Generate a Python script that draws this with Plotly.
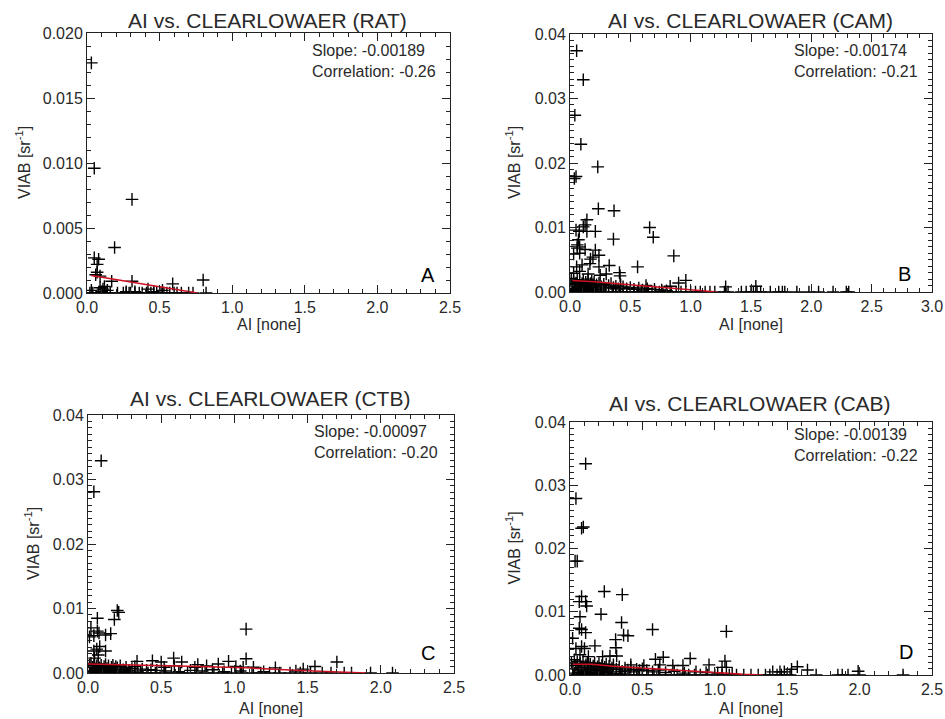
import plotly.graph_objects as go

FONT = "Liberation Sans"

# ---------------- Panel A (RAT) ----------------
a_x = [0.03, 0.05, 0.31, 0.19, 0.05, 0.08, 0.07, 0.07, 0.09, 0.06,
       0.17, 0.31, 0.59, 0.80, 0.03, 0.09, 0.11, 0.12, 0.14, 0.10,
       0.42, 0.52, 0.46, 0.27, 0.33]
a_y = [0.0177, 0.0096, 0.0072, 0.0035, 0.0027, 0.0026, 0.0022, 0.0016, 0.0013, 0.0014,
       0.0009, 0.0009, 0.0007, 0.0010, 0.0002, 0.0004, 0.0003, 0.0005, 0.0002, 0.0001,
       0.0003, 0.0002, 0.0001, 0.0001, 0.0001]
a_base_x = [0.02, 0.04, 0.08, 0.10, 0.13, 0.16, 0.21, 0.25, 0.27, 0.29, 0.30, 0.33,
            0.36, 0.38, 0.41, 0.44, 0.46, 0.48, 0.51, 0.53, 0.55, 0.57, 0.60, 0.62,
            0.65, 0.70, 0.73, 0.82]
a_fit_x = [0.03, 0.76]
a_fit_y = [0.00135, 0.0]

# ---------------- Panel B (CAM) ----------------
b_x = [0.055, 0.11, 0.04, 0.09, 0.23, 0.036, 0.05, 0.235, 0.365, 0.14,
       0.125, 0.11, 0.05, 0.077, 0.14, 0.21, 0.36, 0.66, 0.69, 0.86,
       0.07, 0.06, 0.08, 0.03, 0.08, 0.125, 0.06, 0.21, 0.24, 0.17,
       0.19, 0.055, 0.10, 0.165, 0.24, 0.325, 0.56, 0.03, 0.08, 0.15,
       0.25, 0.30, 0.41, 0.415, 0.90, 0.96, 0.83, 0.63, 1.29, 1.54,
       0.01, 0.02, 0.03, 0.04, 0.05, 0.06, 0.07, 0.08, 0.09, 0.10,
       0.11, 0.12, 0.13, 0.14, 0.15, 0.16, 0.17, 0.18, 0.19, 0.20,
       0.02, 0.04, 0.06, 0.08, 0.10, 0.12, 0.14, 0.16, 0.18, 0.22,
       0.24, 0.26, 0.28, 0.30, 0.32, 0.34, 0.36, 0.38, 0.40, 0.42,
       0.03, 0.05, 0.07, 0.09, 0.11, 0.13, 0.15, 0.17, 0.21, 0.25,
       0.44, 0.47, 0.50, 0.53, 0.57, 0.60, 0.64, 0.70, 0.76, 0.80]
b_y = [0.0374, 0.0329, 0.0274, 0.0229, 0.0194, 0.0176, 0.0179, 0.0129, 0.0126, 0.0112,
       0.0104, 0.0101, 0.0096, 0.0094, 0.0094, 0.0094, 0.0082, 0.0100, 0.0085, 0.0056,
       0.0081, 0.0073, 0.0070, 0.0059, 0.0060, 0.0066, 0.0068, 0.0065, 0.0057, 0.0051,
       0.0054, 0.0039, 0.0042, 0.0044, 0.0039, 0.0041, 0.0039, 0.0029, 0.0032, 0.0028,
       0.0026, 0.0028, 0.0030, 0.0025, 0.0014, 0.0018, 0.0009, 0.0010, 0.0008, 0.0009,
       0.0021, 0.0012, 0.0017, 0.0008, 0.0014, 0.0019, 0.0010, 0.0016, 0.0006, 0.0013,
       0.0018, 0.0009, 0.0015, 0.0011, 0.0020, 0.0007, 0.0013, 0.0017, 0.0010, 0.0015,
       0.0004, 0.0005, 0.0003, 0.0006, 0.0004, 0.0005, 0.0003, 0.0006, 0.0004, 0.0011,
       0.0014, 0.0008, 0.0012, 0.0006, 0.0010, 0.0013, 0.0007, 0.0009, 0.0005, 0.0011,
       0.0002, 0.0002, 0.0001, 0.0003, 0.0002, 0.0001, 0.0002, 0.0003, 0.0004, 0.0003,
       0.0008, 0.0005, 0.0007, 0.0004, 0.0006, 0.0003, 0.0005, 0.0004, 0.0003, 0.0002]
b_base_x = [0.02, 0.05, 0.08, 0.11, 0.14, 0.17, 0.20, 0.23, 0.26, 0.29, 0.32, 0.35,
            0.38, 0.41, 0.44, 0.47, 0.50, 0.53, 0.56, 0.59, 0.62, 0.65, 0.68, 0.71,
            0.74, 0.77, 0.80, 0.84, 0.88, 0.92, 0.96, 1.00, 1.04, 1.08, 1.12, 1.16,
            1.20, 1.28, 1.31, 1.42, 1.46, 1.50, 1.52, 1.55, 1.58, 1.66, 1.73, 1.76,
            1.78, 1.88, 1.98, 2.06, 2.18, 2.29, 2.31]
b_fit_x = [0.02, 0.20, 0.45, 0.70, 1.00, 1.22]
b_fit_y = [0.0018, 0.0016, 0.0012, 0.0008, 0.0003, 0.0]

# ---------------- Panel C (CTB) ----------------
c_x = [0.09, 0.04, 0.20, 0.21, 0.18, 0.064, 1.08, 0.02, 0.064, 0.075,
       0.04, 0.12, 0.155, 0.01, 0.08, 0.06, 0.04, 0.12, 0.07, 0.045,
       0.585, 1.08, 1.70, 0.96, 0.44, 0.50, 0.64, 0.75, 0.81, 0.89,
       1.01, 1.28, 1.47, 1.55, 0.335, 0.52, 0.59, 0.73, 1.06, 1.13,
       0.01, 0.02, 0.03, 0.04, 0.05, 0.06, 0.07, 0.08, 0.09, 0.10,
       0.11, 0.12, 0.13, 0.14, 0.15, 0.16, 0.17, 0.18, 0.19, 0.20,
       0.22, 0.24, 0.26, 0.28, 0.30, 0.32, 0.34, 0.37, 0.40, 0.43,
       0.02, 0.04, 0.06, 0.08, 0.10, 0.12, 0.14, 0.16, 0.18, 0.25,
       0.47, 0.53, 0.62, 0.70, 0.78, 0.85, 0.93, 1.04, 1.20, 1.42]
c_y = [0.0329, 0.0281, 0.0097, 0.0094, 0.0083, 0.0085, 0.0068, 0.0070, 0.0065, 0.0062,
       0.0058, 0.0059, 0.0061, 0.0056, 0.0041, 0.0037, 0.0034, 0.0034, 0.0028, 0.0023,
       0.0023, 0.0022, 0.0017, 0.0018, 0.0019, 0.0017, 0.0017, 0.0013, 0.0011, 0.0014,
       0.0010, 0.0008, 0.0006, 0.0010, 0.0018, 0.0009, 0.0011, 0.0009, 0.0009, 0.0009,
       0.0012, 0.0015, 0.0009, 0.0013, 0.0006, 0.0011, 0.0014, 0.0008, 0.0012, 0.0005,
       0.0010, 0.0013, 0.0007, 0.0011, 0.0004, 0.0009, 0.0012, 0.0006, 0.0010, 0.0008,
       0.0011, 0.0005, 0.0009, 0.0004, 0.0007, 0.0010, 0.0003, 0.0006, 0.0004, 0.0005,
       0.0003, 0.0002, 0.0004, 0.0003, 0.0002, 0.0003, 0.0002, 0.0004, 0.0003, 0.0002,
       0.0004, 0.0003, 0.0002, 0.0004, 0.0003, 0.0005, 0.0002, 0.0003, 0.0002, 0.0003]
c_base_x = [0.02, 0.05, 0.08, 0.11, 0.14, 0.17, 0.20, 0.23, 0.26, 0.29, 0.32, 0.36,
            0.41, 0.46, 0.52, 0.57, 0.63, 0.68, 0.74, 0.80, 0.86, 0.92, 0.98, 1.05,
            1.12, 1.18, 1.24, 1.31, 1.38, 1.45, 1.52, 1.60, 1.66, 1.75, 1.80, 1.93, 2.08]
c_fit_x = [0.0, 0.25, 0.54, 0.76, 1.08, 1.30, 1.45, 1.67, 1.90]
c_fit_y = [0.0014, 0.0013, 0.0012, 0.0010, 0.0008, 0.0005, 0.0004, 0.0002, 0.0]

# ---------------- Panel D (CAB) ----------------
d_x = [0.108, 0.041, 0.08, 0.092, 0.035, 0.05, 0.237, 0.361, 0.08, 0.064,
       0.108, 0.115, 0.069, 0.214, 0.356, 0.57, 1.08, 0.064, 0.08, 0.108,
       0.37, 0.40, 0.018, 0.315, 0.041, 0.08, 0.10, 0.172, 0.317, 0.069,
       0.127, 0.225, 0.276, 0.322, 0.59, 0.644, 0.83, 1.07, 0.96, 1.05,
       1.08, 0.42, 0.51, 0.62, 0.71, 0.78, 1.40, 1.45, 1.48, 1.53,
       1.57, 1.64, 1.99,
       0.01, 0.02, 0.03, 0.04, 0.05, 0.06, 0.07, 0.08, 0.09, 0.10,
       0.11, 0.12, 0.13, 0.14, 0.15, 0.16, 0.17, 0.18, 0.19, 0.20,
       0.21, 0.22, 0.23, 0.24, 0.25, 0.26, 0.27, 0.28, 0.29, 0.30,
       0.32, 0.34, 0.36, 0.38, 0.40, 0.42, 0.44, 0.46, 0.48, 0.50,
       0.03, 0.06, 0.09, 0.12, 0.15, 0.18, 0.22, 0.26, 0.30, 0.35,
       0.53, 0.57, 0.61, 0.66, 0.72, 0.79, 0.87, 0.94, 1.02, 1.12]
d_y = [0.0334, 0.0279, 0.0232, 0.0234, 0.0180, 0.0180, 0.0132, 0.0127, 0.0124, 0.0116,
       0.0116, 0.0109, 0.0092, 0.0096, 0.0083, 0.0072, 0.0069, 0.0074, 0.0072, 0.0067,
       0.0063, 0.0062, 0.0058, 0.0056, 0.0042, 0.0045, 0.0042, 0.0046, 0.0043, 0.0032,
       0.0029, 0.0029, 0.0030, 0.0030, 0.0025, 0.0028, 0.0026, 0.0022, 0.0016, 0.0012,
       0.0012, 0.0016, 0.0015, 0.0016, 0.0015, 0.0015, 0.0005, 0.0005, 0.0005, 0.0009,
       0.0013, 0.0008, 0.0006,
       0.0019, 0.0010, 0.0024, 0.0015, 0.0021, 0.0008, 0.0018, 0.0012, 0.0022, 0.0006,
       0.0016, 0.0020, 0.0011, 0.0017, 0.0009, 0.0014, 0.0019, 0.0007, 0.0013, 0.0018,
       0.0010, 0.0015, 0.0006, 0.0012, 0.0017, 0.0008, 0.0014, 0.0005, 0.0011, 0.0016,
       0.0009, 0.0013, 0.0006, 0.0011, 0.0008, 0.0012, 0.0005, 0.0009, 0.0007, 0.0010,
       0.0003, 0.0004, 0.0002, 0.0003, 0.0004, 0.0002, 0.0003, 0.0004, 0.0002, 0.0003,
       0.0007, 0.0005, 0.0008, 0.0004, 0.0006, 0.0003, 0.0005, 0.0004, 0.0003, 0.0002]
d_base_x = [0.02, 0.05, 0.08, 0.11, 0.14, 0.17, 0.20, 0.23, 0.26, 0.29, 0.32, 0.35,
            0.38, 0.41, 0.44, 0.47, 0.50, 0.54, 0.58, 0.62, 0.66, 0.70, 0.74, 0.78,
            0.82, 0.86, 0.90, 0.95, 1.00, 1.05, 1.10, 1.15, 1.20, 1.25, 1.30, 1.35,
            1.38, 1.43, 1.46, 1.50, 1.52, 1.70, 1.85, 1.88, 1.92, 2.00, 2.30]
d_fit_x = [0.02, 0.15, 0.30, 0.50, 0.70, 1.00, 1.20, 1.33]
d_fit_y = [0.0017, 0.0017, 0.0014, 0.0011, 0.0008, 0.0004, 0.0001, 0.0]

titles = ["AI vs. CLEARLOWAER (RAT)", "AI vs. CLEARLOWAER (CAM)",
          "AI vs. CLEARLOWAER (CTB)", "AI vs. CLEARLOWAER (CAB)"]
slopes = ["Slope: -0.00189", "Slope: -0.00174", "Slope: -0.00097", "Slope: -0.00139"]
corrs = ["Correlation: -0.26", "Correlation: -0.21", "Correlation: -0.20", "Correlation: -0.22"]
letters = ["A", "B", "C", "D"]
x_title = "AI [none]"
y_title = "VIAB [sr<sup>-1</sup>]"

W, H = 945, 719
# plot-area boxes in pixels (left, right, top, bottom)
boxes = [(87, 450, 33, 293), (570, 932, 34, 292), (88, 454, 415, 673), (570, 932, 422, 675)]
x_ranges = [[0, 2.5], [0, 3.0], [0, 2.5], [0, 2.5]]
y_ranges = [[0, 0.02], [0, 0.04], [0, 0.04], [0, 0.04]]
y_dticks = [0.005, 0.01, 0.01, 0.01]
y_fmts = [".3f", ".2f", ".2f", ".2f"]
title_pos = [(267, 20), (750, 20), (270, 398), (750, 403)]
stat_pos = [(0.614, 0.8925), (0.613, 0.895), (0.612, 0.897), (0.613, 0.911)]
letter_pos = [(0.939, 0.069), (0.925, 0.07), (0.929, 0.078), (0.928, 0.091)]
xt_y = [324, 324, 708, 708]
yt_x = [23, 513, 32, 513]

panels = [
    (a_x, a_y, a_base_x, a_fit_x, a_fit_y),
    (b_x, b_y, b_base_x, b_fit_x, b_fit_y),
    (c_x, c_y, c_base_x, c_fit_x, c_fit_y),
    (d_x, d_y, d_base_x, d_fit_x, d_fit_y),
]

fig = go.Figure()
TXT = "#2a2a2a"
AX = "#222222"
layout = dict(width=W, height=H, margin=dict(l=0, r=0, t=0, b=0, autoexpand=False),
              paper_bgcolor="white", plot_bgcolor="white", showlegend=False,
              font=dict(family=FONT, color=TXT))
annotations = []

for i, (px, py, bx, fx, fy) in enumerate(panels):
    n = "" if i == 0 else str(i + 1)
    xa, ya = "x" + n, "y" + n
    marker = dict(symbol="cross-thin", size=9, line=dict(width=1.4, color="black"), color="black")
    fig.add_trace(go.Scatter(x=px + bx, y=py + [0.0] * len(bx), mode="markers",
                             marker=marker, xaxis=xa, yaxis=ya, hoverinfo="skip"))
    fig.add_trace(go.Scatter(x=fx, y=fy, mode="lines", line=dict(color="#cc1122", width=1.5),
                             xaxis=xa, yaxis=ya, hoverinfo="skip"))
    l, r, t, b = boxes[i]
    common = dict(showline=True, linecolor=AX, linewidth=1, mirror="allticks",
                  ticks="inside", ticklen=8, tickwidth=1, tickcolor=AX,
                  showgrid=False, zeroline=False, automargin=False,
                  tickfont=dict(family=FONT, size=16, color=TXT))
    layout["xaxis" + n] = dict(common, domain=[l / W, r / W], range=x_ranges[i],
                               anchor=ya, dtick=0.5, tick0=0, tickformat=".1f",
                               minor=dict(ticks="inside", ticklen=4, dtick=0.1, tickcolor=AX, showgrid=False))
    layout["yaxis" + n] = dict(common, domain=[1 - b / H, 1 - t / H], range=y_ranges[i],
                               anchor=xa, dtick=y_dticks[i], tick0=0, tickformat=y_fmts[i],
                               minor=dict(ticks="inside", ticklen=4, dtick=0.001, tickcolor=AX, showgrid=False))
    xd, yd = xa + " domain", ya + " domain"
    tx, ty = title_pos[i]
    annotations.append(dict(text=titles[i], x=tx / W, y=1 - ty / H, xref="paper", yref="paper",
                            showarrow=False, xanchor="center", yanchor="middle",
                            font=dict(size=21, color=TXT, family=FONT)))
    sx, sy = stat_pos[i]
    annotations.append(dict(text=slopes[i] + "<br>" + corrs[i], x=sx, y=sy, xref=xd, yref=yd,
                            showarrow=False, align="left", xanchor="left", yanchor="middle",
                            font=dict(size=16, color=TXT, family=FONT)))
    lx, ly = letter_pos[i]
    annotations.append(dict(text=letters[i], x=lx, y=ly, xref=xd, yref=yd, showarrow=False,
                            xanchor="center", yanchor="middle", font=dict(size=20, color="black", family=FONT)))
    annotations.append(dict(text=x_title, x=(l + r) / 2 / W, y=1 - xt_y[i] / H, xref="paper", yref="paper",
                            showarrow=False, xanchor="center", yanchor="middle",
                            font=dict(size=16, color=TXT, family=FONT)))
    annotations.append(dict(text=y_title, x=yt_x[i] / W, y=1 - (t + b) / 2 / H, xref="paper", yref="paper",
                            showarrow=False, xanchor="center", yanchor="middle", textangle=-90,
                            font=dict(size=16, color=TXT, family=FONT)))

layout["annotations"] = annotations
fig.update_layout(**layout)
fig.write_html("out.html")
